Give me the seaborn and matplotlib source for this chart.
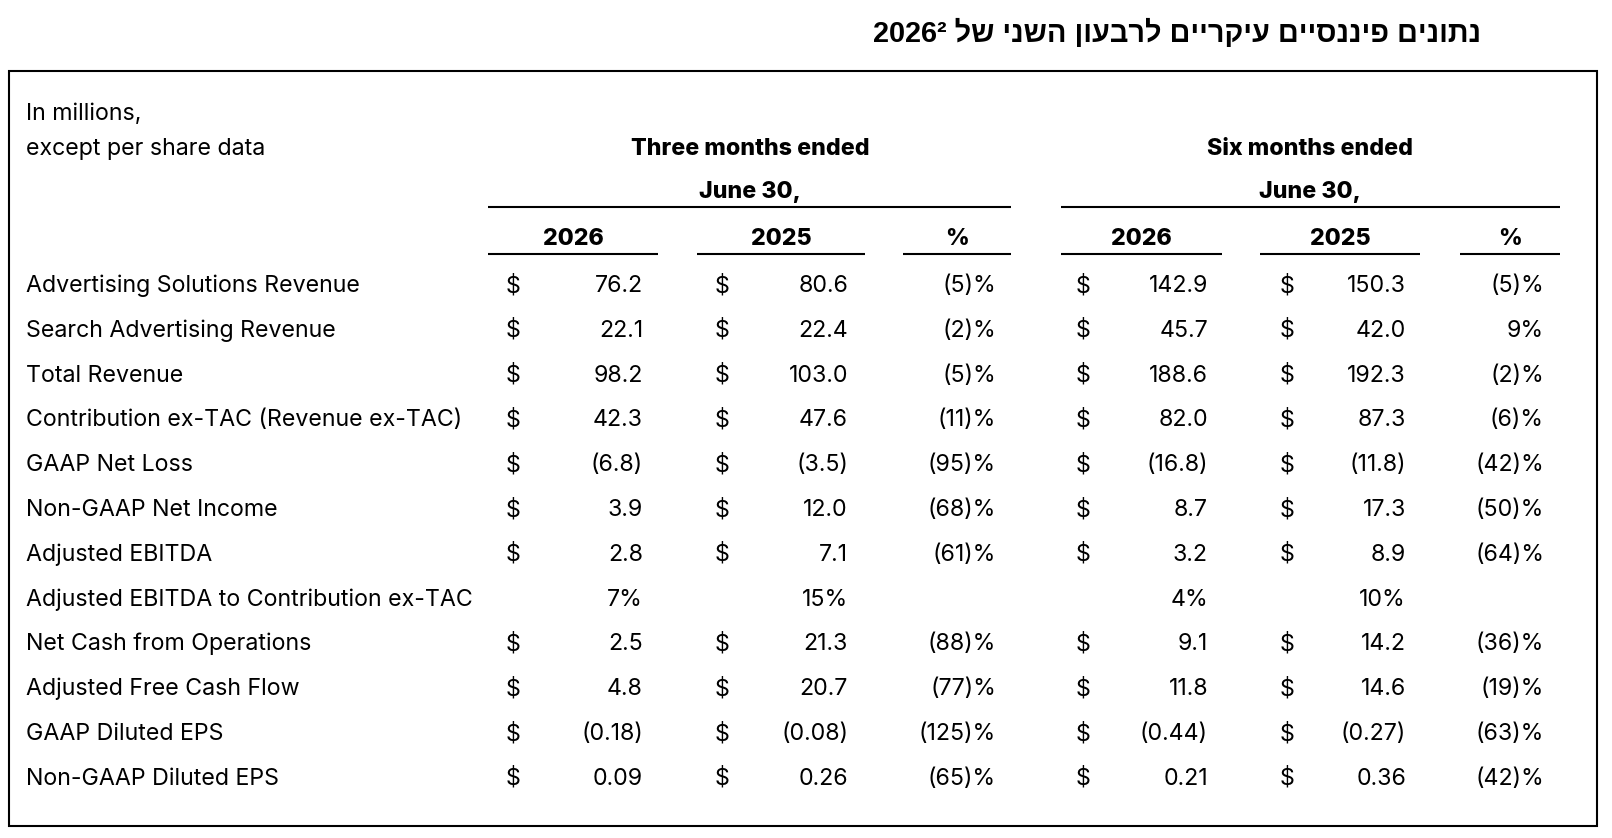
import matplotlib
matplotlib.use("Agg")
import matplotlib.pyplot as plt
from matplotlib.patches import Rectangle
import seaborn as sns

# Data
title_he = "נתונים פיננסיים עיקריים לרבעון השני של"
title_year = "2026²"
unit_note = ["In millions,", "except per share data"]
period_titles = ["Three months ended", "Six months ended"]
period_date = "June 30,"
col_years = ["2026", "2025"]

metrics = [
    "Advertising Solutions Revenue",
    "Search Advertising Revenue",
    "Total Revenue",
    "Contribution ex-TAC (Revenue ex-TAC)",
    "GAAP Net Loss",
    "Non-GAAP Net Income",
    "Adjusted EBITDA",
    "Adjusted EBITDA to Contribution ex-TAC",
    "Net Cash from Operations",
    "Adjusted Free Cash Flow",
    "GAAP Diluted EPS",
    "Non-GAAP Diluted EPS",
]
# usd = $ millions, ratio = percent, eps = $ per share
row_kind = ["usd"] * 7 + ["ratio"] + ["usd"] * 2 + ["eps"] * 2

three_2026 = [76.2, 22.1, 98.2, 42.3, -6.8, 3.9, 2.8, 7, 2.5, 4.8, -0.18, 0.09]
three_2025 = [80.6, 22.4, 103.0, 47.6, -3.5, 12.0, 7.1, 15, 21.3, 20.7, -0.08, 0.26]
three_pct = [-5, -2, -5, -11, -95, -68, -61, None, -88, -77, -125, -65]
six_2026 = [142.9, 45.7, 188.6, 82.0, -16.8, 8.7, 3.2, 4, 9.1, 11.8, -0.44, 0.21]
six_2025 = [150.3, 42.0, 192.3, 87.3, -11.8, 17.3, 8.9, 10, 14.2, 14.6, -0.27, 0.36]
six_pct = [-5, 9, -2, -6, -42, -50, -64, None, -36, -19, -63, -42]


def fmt_value(v, kind):
    if kind == "ratio":
        return f"{v:.0f}%"
    d = 2 if kind == "eps" else 1
    s = f"{abs(v):.{d}f}"
    return f"({s})" if v < 0 else s


def fmt_pct(p):
    if p is None:
        return ""
    return f"({abs(p)})%" if p < 0 else f"{p}%"


sns.set_theme(style="white")
plt.rcParams["font.family"] = ["Inter", "DejaVu Sans"]

W, H = 1612, 838
fig = plt.figure(figsize=(W / 100, H / 100), dpi=100)
ax = fig.add_axes([0, 0, 1, 1])
ax.set_xlim(0, W)
ax.set_ylim(H, 0)
ax.axis("off")

ink = "#000000"
body = 16.7
head_w = "heavy"

# title (Hebrew, laid out right-to-left by hand)
title_visual = title_year + " " + title_he[::-1]
ax.text(1481, 42, title_visual, ha="right", va="baseline", fontsize=20.8,
        fontweight="bold", color=ink, family=["Liberation Sans", "DejaVu Sans"])

# frame
ax.add_patch(Rectangle((9, 71), 1588, 755, fill=False, edgecolor=ink, lw=1.5))

# header block
ax.text(26, 120.5, unit_note[0], fontsize=body, color=ink, va="baseline")
ax.text(26, 155, unit_note[1], fontsize=body, color=ink, va="baseline")

groups = [
    dict(center=750, span=(488, 1011), years=[(488, 658), (697, 865)], pct=(903, 1011),
         dollar=[513, 722], right=[643, 848], pct_right=996,
         data=[three_2026, three_2025], pcts=three_pct),
    dict(center=1310, span=(1061, 1560), years=[(1061, 1222), (1260, 1420)], pct=(1460, 1560),
         dollar=[1083, 1287], right=[1208, 1406], pct_right=1544,
         data=[six_2026, six_2025], pcts=six_pct),
]

row_base = [292 + 44.8 * i for i in range(len(metrics))]

for g, ptitle in zip(groups, period_titles):
    ax.text(g["center"], 155, ptitle, ha="center", va="baseline", fontsize=body,
            fontweight=head_w, color=ink)
    ax.text(g["center"], 198, period_date, ha="center", va="baseline", fontsize=body,
            fontweight=head_w, color=ink)
    ax.hlines(207, *g["span"], color=ink, lw=1.5)
    for (x0, x1), yr in zip(g["years"], col_years):
        ax.text((x0 + x1) / 2, 245, yr, ha="center", va="baseline", fontsize=body,
                fontweight=head_w, color=ink)
        ax.hlines(254, x0, x1, color=ink, lw=1.5)
    x0, x1 = g["pct"]
    ax.text((x0 + x1) / 2, 245, "%", ha="center", va="baseline", fontsize=body,
            fontweight=head_w, color=ink)
    ax.hlines(254, x0, x1, color=ink, lw=1.5)

    for i, yb in enumerate(row_base):
        kind = row_kind[i]
        for k in range(2):
            if kind != "ratio":
                ax.text(g["dollar"][k], yb, "$", ha="center", va="baseline",
                        fontsize=body, color=ink)
            ax.text(g["right"][k], yb, fmt_value(g["data"][k][i], kind), ha="right",
                    va="baseline", fontsize=body, color=ink)
        ax.text(g["pct_right"], yb, fmt_pct(g["pcts"][i]), ha="right", va="baseline",
                fontsize=body, color=ink)

for i, yb in enumerate(row_base):
    ax.text(26, yb, metrics[i], fontsize=body, color=ink, va="baseline")

fig.savefig("out.png", dpi=100, facecolor="white")
